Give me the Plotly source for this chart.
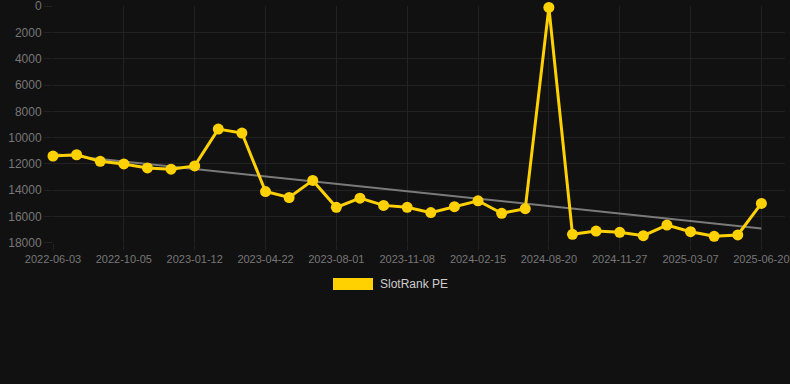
import plotly.graph_objects as go

dates = ["2022-06-03", "2022-07-14", "2022-08-25", "2022-10-05", "2022-11-08", "2022-12-10",
         "2023-01-12", "2023-02-15", "2023-03-20", "2023-04-22", "2023-05-26", "2023-06-28",
         "2023-08-01", "2023-09-06", "2023-10-07", "2023-11-08", "2023-12-12", "2024-01-14",
         "2024-02-15", "2024-04-15", "2024-06-18", "2024-08-20", "2024-09-25", "2024-10-22",
         "2024-11-27", "2024-12-30", "2025-02-02", "2025-03-07", "2025-04-10", "2025-05-15",
         "2025-06-20"]
ranks = [11400, 11300, 11800, 12000, 12300, 12400, 12150, 9350, 9650, 14100, 14550, 13250,
         15300, 14600, 15150, 15300, 15700, 15250, 14800, 15750, 15400, 100, 17350, 17100,
         17200, 17450, 16650, 17150, 17500, 17400, 15000]
trend_dates = ["2022-06-03", "2025-06-20"]
trend_values = [11250, 16900]
tick_labels = dates[::3]
y_ticks = [0, 2000, 4000, 6000, 8000, 10000, 12000, 14000, 16000, 18000]
series_name = "SlotRank PE"

fig = go.Figure()
fig.add_trace(go.Scatter(
    x=trend_dates, y=trend_values, mode="lines",
    line=dict(color="#7a7a7a", width=2), showlegend=False, hoverinfo="skip"))
fig.add_trace(go.Scatter(
    x=dates, y=ranks, mode="lines+markers", name=series_name,
    line=dict(color="#FFD100", width=3),
    marker=dict(color="#FFD100", size=11),
    cliponaxis=False, showlegend=False))

fig.update_layout(
    width=790, height=384,
    paper_bgcolor="#111111", plot_bgcolor="#111111",
    margin=dict(l=53, r=5, t=6, b=141, autoexpand=False),
    font=dict(family="Liberation Sans, Arial, sans-serif", color="#777777"),
    xaxis=dict(type="category", categoryorder="array", categoryarray=dates,
               tickmode="array", tickvals=tick_labels, ticktext=tick_labels,
               range=[0, 31.0], showgrid=True, gridcolor="#222222", gridwidth=1,
               zeroline=False, showline=False, ticks="outside", ticklen=6,
               tickcolor="#222222", automargin=False, ticklabeloverflow="allow",
               tickfont=dict(size=11, color="#777777")),
    yaxis=dict(range=[18010, -10], tickvals=y_ticks, tickformat="d", showgrid=True,
               gridcolor="#222222", gridwidth=1, zeroline=False, showline=False,
               ticks="outside", ticklen=8, tickcolor="#222222",
               ticklabeloverflow="allow", automargin=False,
               tickfont=dict(size=12, color="#777777")),
    showlegend=False,
    shapes=[dict(type="rect", xref="paper", yref="paper",
                 x0=(333 - 53) / 732, x1=(373 - 53) / 732,
                 y0=-(290 - 243) / 237, y1=-(278 - 243) / 237,
                 fillcolor="#FFD100", line=dict(width=0))],
    annotations=[dict(text=series_name, xref="paper", yref="paper",
                      x=(378 - 53) / 732, y=-(284 - 243) / 237,
                      xanchor="left", yanchor="middle", showarrow=False,
                      font=dict(size=12, color="#cccccc"))],
)

fig.write_html("out.html", config={"displayModeBar": False},
               post_script="document.body.style.margin='0';document.body.style.background='#111111';")
